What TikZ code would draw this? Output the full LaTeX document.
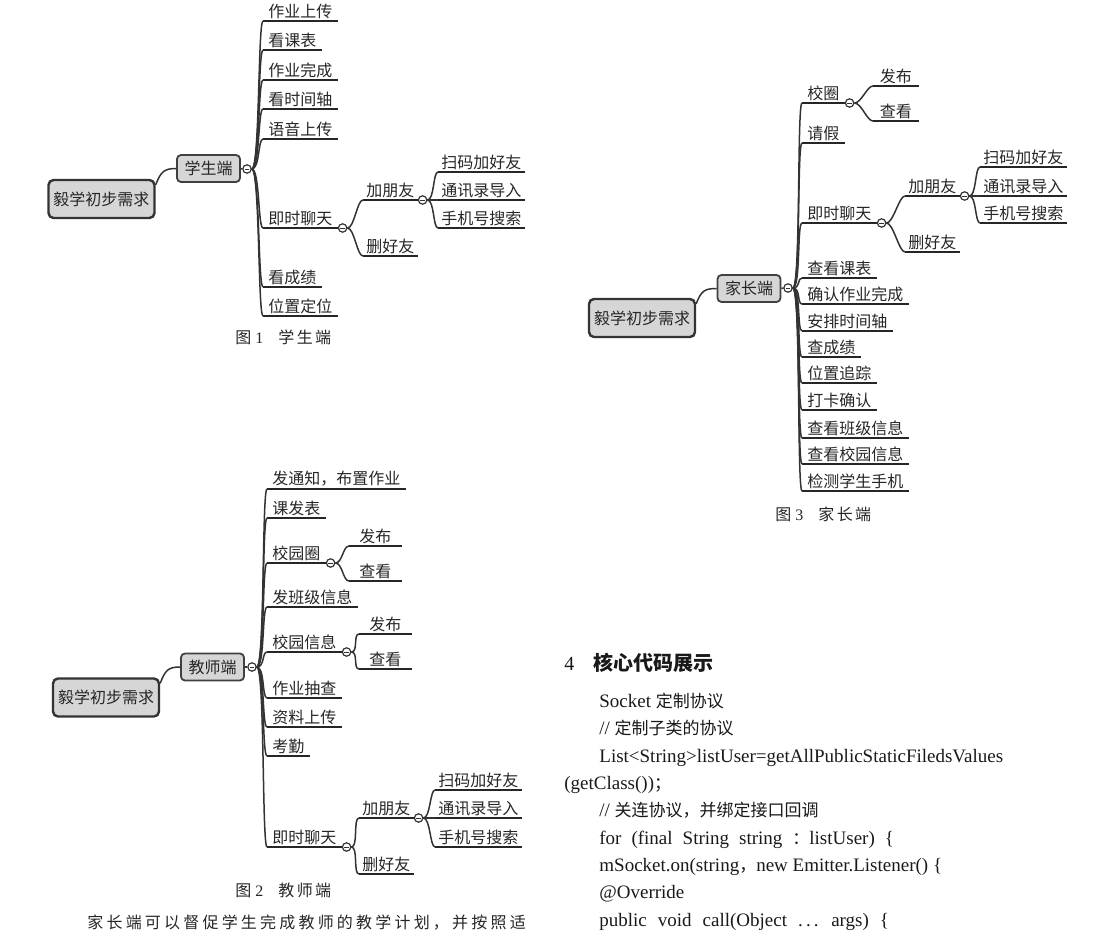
\documentclass[tikz,border=0pt]{standalone}
\usepackage{fontspec}
\setmainfont{Liberation Serif}
\newfontfamily\cjk{Noto Sans CJK SC}
\newfontfamily\cjkwide[LetterSpace=20]{Noto Sans CJK SC}
\newfontfamily\cjkcap[LetterSpace=15]{Noto Sans CJK SC}
\newcommand{\zh}[1]{{\cjk\fontsize{8.5}{10}\selectfont #1}}
\usetikzlibrary{positioning}

\begin{document}
\begin{tikzpicture}[x=0.5pt,y=-0.5pt]
\tikzset{
  rootbox/.style={draw=black!80, line width=1.2pt, fill=black!16, rounded corners=2.5pt, minimum width=53pt, minimum height=19pt, inner sep=0pt, text=black!85, font=\cjk\fontsize{8}{9}\selectfont},
  sidebox/.style={draw=black!75, line width=0.9pt, fill=black!16, rounded corners=2pt, minimum width=31.5pt, minimum height=13.5pt, inner sep=0pt, text=black!85, font=\cjk\fontsize{8}{9}\selectfont},
  uline/.style={draw=black!85, line width=1.2pt},
  branch/.style={draw=black!80, line width=0.75pt},
  leaf/.style={anchor=south west, inner xsep=2.5pt, inner ysep=1pt, text=black!85, font=\cjk\fontsize{8}{9}\selectfont, append after command={(\tikzlastnode.south west) edge[uline] (\tikzlastnode.south east)}},
  subleaf/.style={leaf, inner xsep=1.5pt},
  knob/.style={circle, draw=black!80, fill=white, line width=0.6pt, minimum size=4.2pt, inner sep=0pt, path picture={\draw[line width=0.45pt] ([xshift=-1.1pt]path picture bounding box.center) -- ([xshift=1.1pt]path picture bounding box.center);}},
  caption/.style={anchor=base west, inner sep=0pt, text=black!85, font=\cjkcap\fontsize{8}{9}\selectfont},
  codeline/.style={anchor=base west, inner sep=0pt, text=black!90, font=\fontsize{9.5}{11}\selectfont}
}
\useasboundingbox (0,0) rectangle (1120,942);

\node[rootbox] (root1) at (101.5,199) {毅学初步需求};
\node[sidebox] (stu) at (208.5,168.5) {学生端};
\node[knob] (k1) at (247,169) {};
\node[leaf] (s1) at (263,21) {作业上传};
\node[leaf] (s2) at (263,50) {看课表};
\node[leaf] (s3) at (263,80) {作业完成};
\node[leaf] (s4) at (263,109) {看时间轴};
\node[leaf] (s5) at (263,139) {语音上传};
\node[leaf] (s6) at (263,228) {即时聊天};
\node[leaf] (s7) at (263,287) {看成绩};
\node[leaf] (s8) at (263,316) {位置定位};
\node[knob, anchor=west] (k1a) at (s6.south east) {};
\node[subleaf] (s61) at (363,200) {加朋友};
\node[subleaf] (s62) at (363,256) {删好友};
\node[knob, anchor=west] (k1b) at (s61.south east) {};
\node[subleaf] (s611) at (438,172) {扫码加好友};
\node[subleaf] (s612) at (438,200) {通讯录导入};
\node[subleaf] (s613) at (438,228) {手机号搜索};
\node[caption] (cap1) at (235,343) {图{\rmfamily\ 1}\hspace{7.5pt}学生端};

\draw[branch] ([yshift=-3pt]root1.north east) .. controls +(5,-13) and +(-12,0) .. (stu.west);
\draw[branch] (stu.east) -- (k1.west);
\foreach \c in {s1,s2,s3,s4,s5,s6,s7,s8}
  \draw[branch] (k1.east) .. controls +(8,0) and +(-5,0) .. (\c.south west);
\foreach \c in {s61,s62}
  \draw[branch] (k1a.east) .. controls +(7,0) and +(-6,0) .. (\c.south west);
\foreach \c in {s611,s612,s613}
  \draw[branch] (k1b.east) .. controls +(7,0) and +(-5,0) .. (\c.south west);

\node[rootbox] (root2) at (106,697.5) {毅学初步需求};
\node[sidebox] (tea) at (212.5,667) {教师端};
\node[knob] (k2) at (252,667) {};
\node[leaf] (t1) at (267,489) {发通知，布置作业};
\node[leaf] (t2) at (267,518) {课发表};
\node[leaf] (t3) at (267,563) {校园圈};
\node[leaf] (t4) at (267,607) {发班级信息};
\node[leaf] (t5) at (267,652) {校园信息};
\node[leaf] (t6) at (267,698) {作业抽查};
\node[leaf] (t7) at (267,727) {资料上传};
\node[leaf] (t8) at (267,756) {考勤};
\node[leaf] (t9) at (267,847) {即时聊天};
\node[knob, anchor=west] (k2a) at (t3.south east) {};
\node[subleaf, minimum width=26pt] (t31) at (349,546) {发布};
\node[subleaf, minimum width=26pt] (t32) at (349,581) {查看};
\node[knob, anchor=west] (k2b) at (t5.south east) {};
\node[subleaf, minimum width=26pt] (t51) at (359,634) {发布};
\node[subleaf, minimum width=26pt] (t52) at (359,669) {查看};
\node[knob, anchor=west] (k2c) at (t9.south east) {};
\node[subleaf] (t91) at (359,818) {加朋友};
\node[subleaf] (t92) at (359,874) {删好友};
\node[knob, anchor=west] (k2d) at (t91.south east) {};
\node[subleaf] (t911) at (435,790) {扫码加好友};
\node[subleaf] (t912) at (435,818) {通讯录导入};
\node[subleaf] (t913) at (435,847) {手机号搜索};
\node[caption] (cap2) at (235,896) {图{\rmfamily\ 2}\hspace{7.5pt}教师端};
\node[anchor=base west, inner sep=0pt, text=black!85, font=\cjkwide\fontsize{8}{9}\selectfont] (para) at (87,928) {家长端可以督促学生完成教师的教学计划，并按照适};

\draw[branch] ([yshift=-3pt]root2.north east) .. controls +(5,-13) and +(-12,0) .. (tea.west);
\draw[branch] (tea.east) -- (k2.west);
\foreach \c in {t1,t2,t3,t4,t5,t6,t7,t8,t9}
  \draw[branch] (k2.east) .. controls +(8,0) and +(-5,0) .. (\c.south west);
\foreach \c in {t31,t32}
  \draw[branch] (k2a.east) .. controls +(7,0) and +(-6,0) .. (\c.south west);
\foreach \c in {t51,t52}
  \draw[branch] (k2b.east) .. controls +(7,0) and +(-6,0) .. (\c.south west);
\foreach \c in {t91,t92}
  \draw[branch] (k2c.east) .. controls +(7,0) and +(-6,0) .. (\c.south west);
\foreach \c in {t911,t912,t913}
  \draw[branch] (k2d.east) .. controls +(7,0) and +(-5,0) .. (\c.south west);

\node[rootbox] (root3) at (642,318) {毅学初步需求};
\node[sidebox] (par) at (749,288.5) {家长端};
\node[knob] (k3) at (788,288) {};
\node[leaf] (p1) at (802,103) {校圈};
\node[leaf] (p2) at (802,143) {请假};
\node[leaf] (p3) at (802,223) {即时聊天};
\node[leaf] (p4) at (802,278) {查看课表};
\node[leaf] (p5) at (802,304) {确认作业完成};
\node[leaf] (p6) at (802,331) {安排时间轴};
\node[leaf] (p7) at (802,357) {查成绩};
\node[leaf] (p8) at (802,383) {位置追踪};
\node[leaf] (p9) at (802,410) {打卡确认};
\node[leaf] (p10) at (802,438) {查看班级信息};
\node[leaf] (p11) at (802,464) {查看校园信息};
\node[leaf] (p12) at (802,491) {检测学生手机};
\node[knob, anchor=west] (k3a) at (p1.south east) {};
\node[subleaf, minimum width=22.5pt] (p1a) at (873,86) {发布};
\node[subleaf, minimum width=22.5pt] (p1b) at (873,121) {查看};
\node[knob, anchor=west] (k3b) at (p3.south east) {};
\node[subleaf] (p31) at (905,196) {加朋友};
\node[subleaf] (p32) at (905,252) {删好友};
\node[knob, anchor=west] (k3c) at (p31.south east) {};
\node[subleaf] (p311) at (980,167) {扫码加好友};
\node[subleaf] (p312) at (980,196) {通讯录导入};
\node[subleaf] (p313) at (980,223) {手机号搜索};
\node[caption] (cap3) at (775,520) {图{\rmfamily\ 3}\hspace{7.5pt}家长端};

\draw[branch] ([yshift=-3pt]root3.north east) .. controls +(5,-13) and +(-12,0) .. (par.west);
\draw[branch] (par.east) -- (k3.west);
\foreach \c in {p1,p2,p3,p4,p5,p6,p7,p8,p9,p10,p11,p12}
  \draw[branch] (k3.east) .. controls +(8,0) and +(-5,0) .. (\c.south west);
\foreach \c in {p1a,p1b}
  \draw[branch] (k3a.east) .. controls +(7,0) and +(-6,0) .. (\c.south west);
\foreach \c in {p31,p32}
  \draw[branch] (k3b.east) .. controls +(7,0) and +(-6,0) .. (\c.south west);
\foreach \c in {p311,p312,p313}
  \draw[branch] (k3c.east) .. controls +(7,0) and +(-5,0) .. (\c.south west);

\node[anchor=base west, inner sep=0pt, text=black!90, font=\fontsize{10}{12}\selectfont] (h4) at (564,670) {4};
\node[anchor=base west, inner sep=0pt, text=black!90, font=\cjk\bfseries\fontsize{10}{12}\selectfont] (head) at (593,670) {核心代码展示};
\node[codeline] (c1) at (599,707) {Socket \zh{定制协议}};
\node[codeline] (c2) at (599,734) {// \zh{定制子类的协议}};
\node[codeline] (c3) at (599,762) {List<String>listUser=getAllPublicStaticFiledsValues};
\node[codeline] (c4) at (564,789) {(getClass())\zh{；}};
\node[codeline] (c5) at (599,816) {// \zh{关连协议，并绑定接口回调}};
\node[codeline] (c6) at (599,844) {\spaceskip=5pt for (final String string \zh{：}listUser) \{};
\node[codeline] (c7) at (599,871) {mSocket.on(string\zh{，}new Emitter.Listener() \{};
\node[codeline] (c8) at (599,898) {@Override};
\node[codeline] (c9) at (599,926) {\spaceskip=5.5pt public void call(Object .\,.\,. args) \{};
\end{tikzpicture}
\end{document}
